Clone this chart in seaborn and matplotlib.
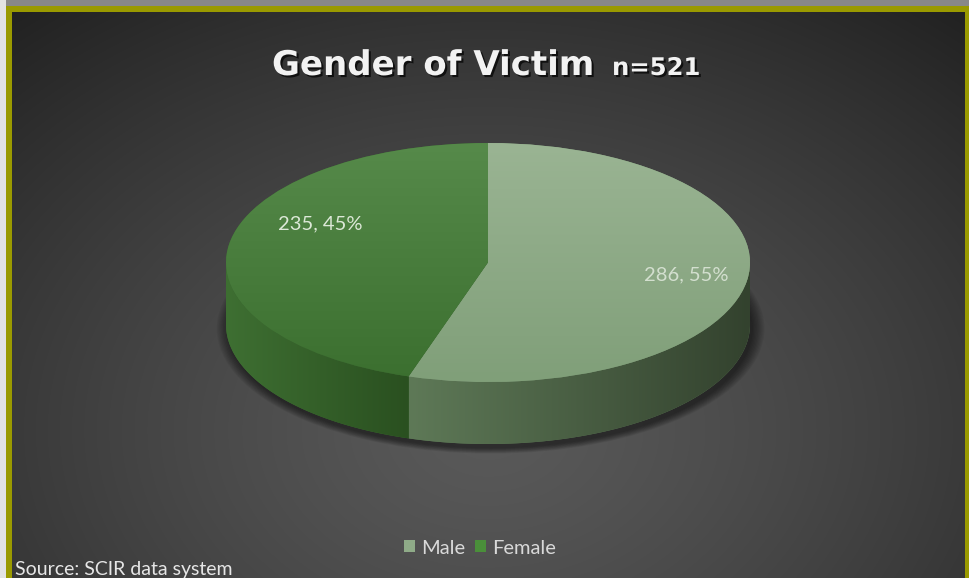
import numpy as np
import matplotlib
matplotlib.use("Agg")
import matplotlib.pyplot as plt
import seaborn as sns
from matplotlib.patches import Polygon, Rectangle, Ellipse, Patch
from matplotlib.colors import LinearSegmentedColormap
import matplotlib.patheffects as pe

# ---------------- data ----------------
categories = ["Male", "Female"]
counts = [286, 235]
percents = [55, 45]
title_text = "Gender of Victim"
n_text = "n=521"
source_text = "Source: SCIR data system"

# ---------------- style ----------------
sns.set_theme(style="dark")
plt.rcParams['font.family'] = ['Lato', 'DejaVu Sans']

top_colors = {"Male": ("#9ab493", "#809f79"), "Female": ("#568a4a", "#3b6f2f")}
side_colors = {"Male": ("#5e7957", "#33422e"), "Female": ("#3e6f32", "#2a5020")}
legend_colors = {"Male": "#8fab88", "Female": "#4a8f3a"}

W, H = 970, 578
fig = plt.figure(figsize=(9.7, 5.78), dpi=100)

# background (pixel coordinates)
bg = fig.add_axes([0, 0, 1, 1])
bg.set_xlim(0, W); bg.set_ylim(H, 0); bg.axis('off')
yy, xx = np.mgrid[0:H, 0:W]
d = np.sqrt(((xx - 488) / 640.0) ** 2 + ((yy - 430) / 470.0) ** 2)
v = 0.35 - 0.18 * np.clip(d, 0, 1.2) ** 1.3
bg.imshow(np.dstack([v, v, v]), extent=(0, W, H, 0), zorder=0, interpolation='bilinear', aspect='auto')

# outer frame strips and olive border
bg.add_patch(Rectangle((0, 0), W, 6, color="#888888", zorder=1, lw=0))
bg.add_patch(Rectangle((0, 0), 6, H, color="#e3e3e3", zorder=1, lw=0))
bg.add_patch(Rectangle((6, 6), W - 6, 5.5, color="#9a9a00", zorder=2, lw=0))
bg.add_patch(Rectangle((6, 6), 6, H - 6, color="#9a9a00", zorder=2, lw=0))
bg.add_patch(Rectangle((965, 6), 5, H - 6, color="#9a9a00", zorder=2, lw=0))

# ---------------- pie axes ----------------
cx, cy, rx, ry, depth = 488, 262.5, 262, 119.5, 62
ax = fig.add_axes([0, 0, 1, 1])
ax.patch.set_visible(False)
dd = depth / ry

wedges, _ = ax.pie(counts, colors=[top_colors[c][1] for c in categories], startangle=90,
                   counterclock=False, radius=1, center=(0, 0),
                   wedgeprops=dict(linewidth=0), frame=False)
for w in wedges:
    w.set_zorder(5)

# shadow under the pie
for i in range(10):
    s = 1.0 + 0.005 * i
    ax.add_patch(Ellipse((0.01, -dd - 0.035), 2 * s, 2 * s, color="black",
                         alpha=0.06, lw=0, zorder=1))

# side walls computed from the wedge angles
fr = np.array(counts) / np.sum(counts)
start = 90.0
for cat, f in zip(categories, fr):
    a0, a1 = start - 360 * f, start  # wedge spans [a0, a1] degrees
    start = a0
    lo, hi = max(a0, -180), min(a1, 0)
    if hi <= lo:
        continue
    t = np.radians(np.linspace(lo, hi, 200))
    topx, topy = np.cos(t), np.sin(t)
    pts = np.vstack([np.column_stack([topx, topy]),
                     np.column_stack([topx[::-1], topy[::-1] - dd])])
    poly = Polygon(pts, closed=True, facecolor=side_colors[cat][0], lw=0, zorder=3)
    ax.add_patch(poly)
    cmap = LinearSegmentedColormap.from_list(cat + "side", list(side_colors[cat]))
    grad = np.linspace(0, 1, 256)[None, :]
    im = ax.imshow(grad, cmap=cmap, extent=(topx.min(), topx.max(), -1 - dd, 0.1),
                   zorder=4, aspect='auto', interpolation='bilinear')
    im.set_clip_path(poly)

# top-face gradients
for w, cat in zip(wedges, categories):
    cmap = LinearSegmentedColormap.from_list(cat + "top", [top_colors[cat][1], top_colors[cat][0]])
    grad = np.linspace(0, 1, 256)[:, None]
    im = ax.imshow(grad, cmap=cmap, extent=(-1, 1, -1, 1), origin='lower',
                   zorder=6, aspect='auto', interpolation='bilinear')
    im.set_clip_path(w)

ax.set_aspect('auto')
ax.set_xlim(-cx / rx, (W - cx) / rx)
ax.set_ylim(-(H - cy) / ry, cy / ry)
ax.axis('off')

# value labels (drawn by the pie axes, placed in pixel coordinates)
label_pos = {"Male": (686, 275), "Female": (320, 224)}
label_col = {"Male": "#d3dfcf", "Female": "#dce8d7"}
for cat, cnt, p in zip(categories, counts, percents):
    x, y = label_pos[cat]
    ax.text(x, y, f"{cnt}, {p}%", ha='center', va='center', fontsize=14.5,
            color=label_col[cat], zorder=10, transform=bg.transData)

# title
shadow = [pe.withSimplePatchShadow(offset=(1.5, -1.5), shadow_rgbFace='black', alpha=0.7)]
bg.text(272, 75, title_text, ha='left', va='baseline', fontsize=24.5, fontweight='bold',
        color="#f2f2f2", zorder=10, path_effects=shadow, family=['DejaVu Sans'])
bg.text(612, 75, n_text, ha='left', va='baseline', fontsize=17.5, fontweight='bold',
        color="#f2f2f2", zorder=10, path_effects=shadow, family=['DejaVu Sans'])

# legend
handles = [Patch(facecolor=legend_colors[c], edgecolor='none', label=c) for c in categories]
leg = fig.legend(handles=handles, loc='center', bbox_to_anchor=(480 / W, 1 - 548 / H), ncol=2,
                 frameon=False, fontsize=14.5, labelcolor="#d9d9d9", handlelength=0.55,
                 handleheight=0.55, handletextpad=0.3, columnspacing=0.45)

# source
bg.text(15, 575, source_text, ha='left', va='baseline', fontsize=14, color="#e6e6e6", zorder=10)

fig.savefig("out.png", dpi=100)
